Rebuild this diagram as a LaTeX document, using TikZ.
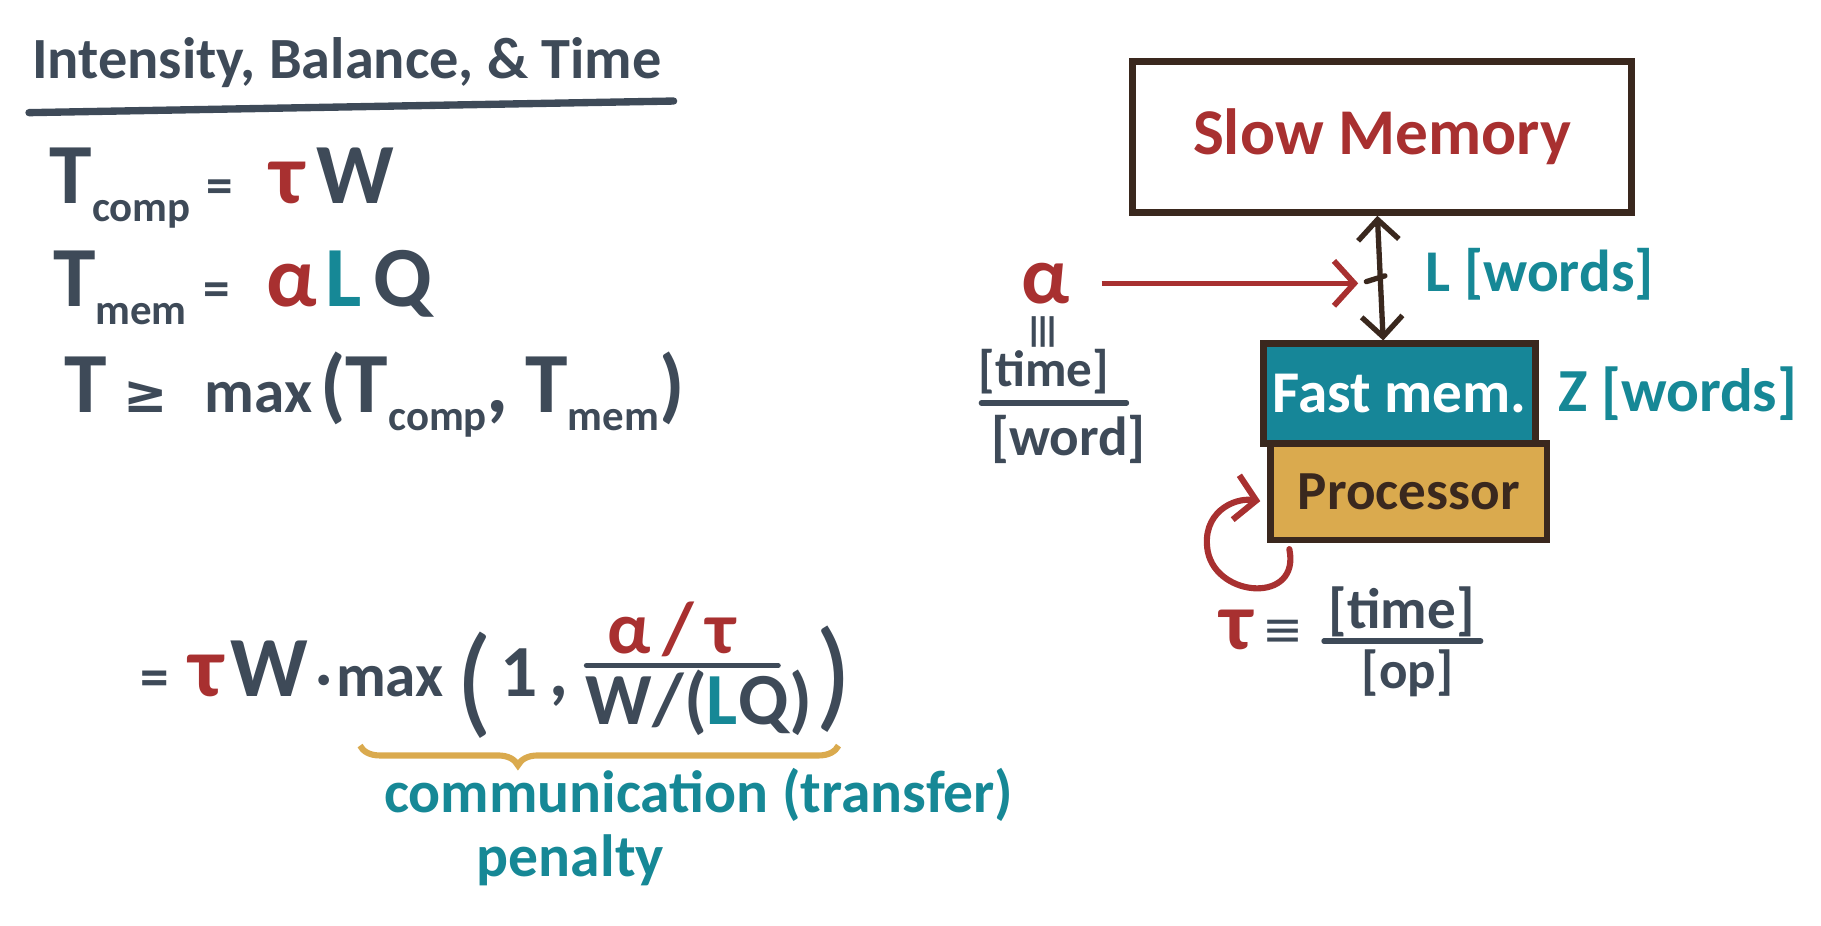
\documentclass[tikz,border=0pt]{standalone}
\usepackage{fontspec}
\setmainfont{Carlito}
\newfontfamily\symfont{DejaVu Sans}
\usetikzlibrary{arrows.meta,positioning,decorations.pathreplacing}
\definecolor{ink}{RGB}{62,74,88}
\definecolor{memred}{RGB}{168,48,48}
\definecolor{wordteal}{RGB}{22,136,150}
\definecolor{fastteal}{RGB}{22,134,152}
\definecolor{procgold}{RGB}{218,170,78}
\definecolor{boxbrown}{RGB}{58,40,30}
\newcommand{\fsz}[1]{\fontsize{#1}{#1}\selectfont}
\newcommand{\lowsub}[2][4.5pt]{\raisebox{-#1}{\fsz{10.5}#2}}
\begin{document}
\begin{tikzpicture}[
        every node/.style={inner sep=0pt, text=ink, font=\bfseries},
        eq/.style={anchor=base west, font=\bfseries\fsz{21}},
        membox/.style={draw=boxbrown, line width=1.6pt},
        fracline/.style={draw=ink, line width=1.3pt, line cap=round},
        link/.style={draw=boxbrown, line width=1.3pt, {Straight Barb[length=5pt,width=10pt]}-{Straight Barb[length=5pt,width=10pt]}},
        alphaarrow/.style={draw=memred, line width=1.4pt, -{Straight Barb[length=5pt,width=11pt]}},
        tauarrow/.style={draw=memred, line width=1.5pt, line cap=round, -{Straight Barb[length=5pt,width=11pt]}},
        goldbrace/.style={draw=procgold, line width=1.5pt, decorate, decoration={brace, mirror, amplitude=0.17cm, aspect=0.33}}
    ]
        \useasboundingbox (0,0) rectangle (15.68,-7.97);

        % --- TITLE ---
        \node[anchor=base west, font=\bfseries\fsz{14.3}] (title) at (0.27,-0.68) {Intensity, Balance, \& Time};
        \draw[ink, line width=1.8pt, line cap=round] (0.25,-0.97) -- (5.80,-0.87);

        % --- TIME EQUATIONS ---
        \node[eq] (tcomp) at (0.42,-1.75) {T\lowsub{comp}\hspace{4pt}{\fsz{13}=}\hspace{9pt}{\color{memred}τ}\hspace{3pt}W};
        \node[eq] (tmem) at (0.45,-2.64) {T\lowsub{mem}\hspace{4pt}{\fsz{13}=}\hspace{9pt}{\color{memred}α}\hspace{2pt}{\color{wordteal}L}\hspace{3pt}Q};
        \node[eq] (tbound) at (0.55,-3.55) {T\hspace{4pt}{\symfont\fsz{13}≥}\hspace{9pt}{\fsz{15}max}\hspace{2pt}{\fsz{20}(}T\lowsub{comp},\hspace{4pt}T\lowsub{mem}{\fsz{20})}};

        % --- BOUND WITH PENALTY ---
        \node[eq] (bound) at (1.20,-6.0) {{\fsz{14}=}\hspace{5pt}{\color{memred}τ}\hspace{2pt}W\hspace{2pt}{\fsz{14}·}\hspace{1pt}{\fsz{15}max}};
        \node[font=\fsz{30}] (lpar) at (4.08,-5.90) {(};
        \node[eq, font=\bfseries\fsz{18}] (one) at (4.30,-6.0) {1\hspace{3pt},};
        \node[font=\bfseries\fsz{18}, text=memred] (num) at (5.78,-5.42) {α\,/\,τ};
        \node[font=\bfseries\fsz{18}] (den) at (6.02,-6.05) {W/({\color{wordteal}L}Q)};
        \draw[fracline] (5.05,-5.73) -- (6.70,-5.73);
        \node[font=\fsz{30}] (rpar) at (7.18,-5.85) {)};

        \draw[goldbrace] (3.10,-6.42) -- (7.22,-6.42);
        \node[anchor=base west, font=\bfseries\fsz{14.6}, text=wordteal] (comm) at (3.30,-7.00) {communication (transfer)};
        \node[anchor=base west, font=\bfseries\fsz{14.6}, text=wordteal] (penalty) at (4.10,-7.55) {penalty};

        % --- MEMORY MODEL ---
        \node[membox, minimum width=4.3cm, minimum height=1.3cm, text=memred, font=\bfseries\fsz{16}] (slow) at (11.90,-1.18) {Slow Memory};
        \node[membox, fill=fastteal, text=white, minimum width=2.34cm, minimum height=0.86cm, font=\bfseries\fsz{14.5}] (fast) at (12.05,-3.39) {Fast mem.};
        \node[membox, fill=procgold, text=boxbrown, minimum width=2.38cm, minimum height=0.83cm, font=\bfseries\fsz{13.5}] (proc) at (12.13,-4.235) {Processor};

        \draw[link] ([xshift=-0.04cm]slow.south) -- coordinate[pos=0.5] (mid) ([xshift=-0.14cm]fast.north);
        \draw[draw=boxbrown, line width=1.3pt, line cap=round] ([shift={(-0.12,-0.03)}]mid) -- ([shift={(0.04,0.02)}]mid);

        \node[anchor=west, font=\bfseries\fsz{14.5}, text=wordteal] (lwords) at (12.27,-2.36) {L [words]};
        \node[right=0.16cm of fast, font=\bfseries\fsz{15}, text=wordteal] (zwords) {Z [words]};

        % alpha: time per word
        \node[font=\bfseries\fsz{20}, text=memred] (alpha) at (9.00,-2.44) {α};
        \draw[alphaarrow, shorten <=0.27cm, shorten >=0.19cm] (alpha.east) -- (alpha.east -| mid);
        \node[font=\fsz{12}] (alphaeq) at (9.00,-2.86) {\rotatebox{90}{\symfont ≡}};
        \node[font=\bfseries\fsz{12.5}] (atime) at (8.99,-3.20) {[time]};
        \draw[fracline] (8.45,-3.47) -- (9.70,-3.47);
        \node[font=\bfseries\fsz{13.5}] (aword) at (9.20,-3.78) {[word]};

        % tau: time per op
        \draw[tauarrow] ([shift={(0.19,-0.05)}]proc.south west) .. controls (11.20,-5.20) and (10.48,-5.15) .. (10.40,-4.75) .. controls (10.34,-4.42) and (10.62,-4.28) .. ([shift={(-0.06,-0.08)}]proc.west);
        \node[font=\bfseries\fsz{20}, text=memred] (tau) at (10.65,-5.42) {τ};
        \node[font=\fsz{12}] (tauequiv) at (11.05,-5.45) {\symfont ≡};
        \node[font=\bfseries\fsz{14}] (ttime) at (12.07,-5.27) {[time]};
        \draw[fracline] (11.40,-5.52) -- (12.75,-5.52);
        \node[font=\bfseries\fsz{13}] (top) at (12.12,-5.80) {[op]};
    \end{tikzpicture}
\end{document}
